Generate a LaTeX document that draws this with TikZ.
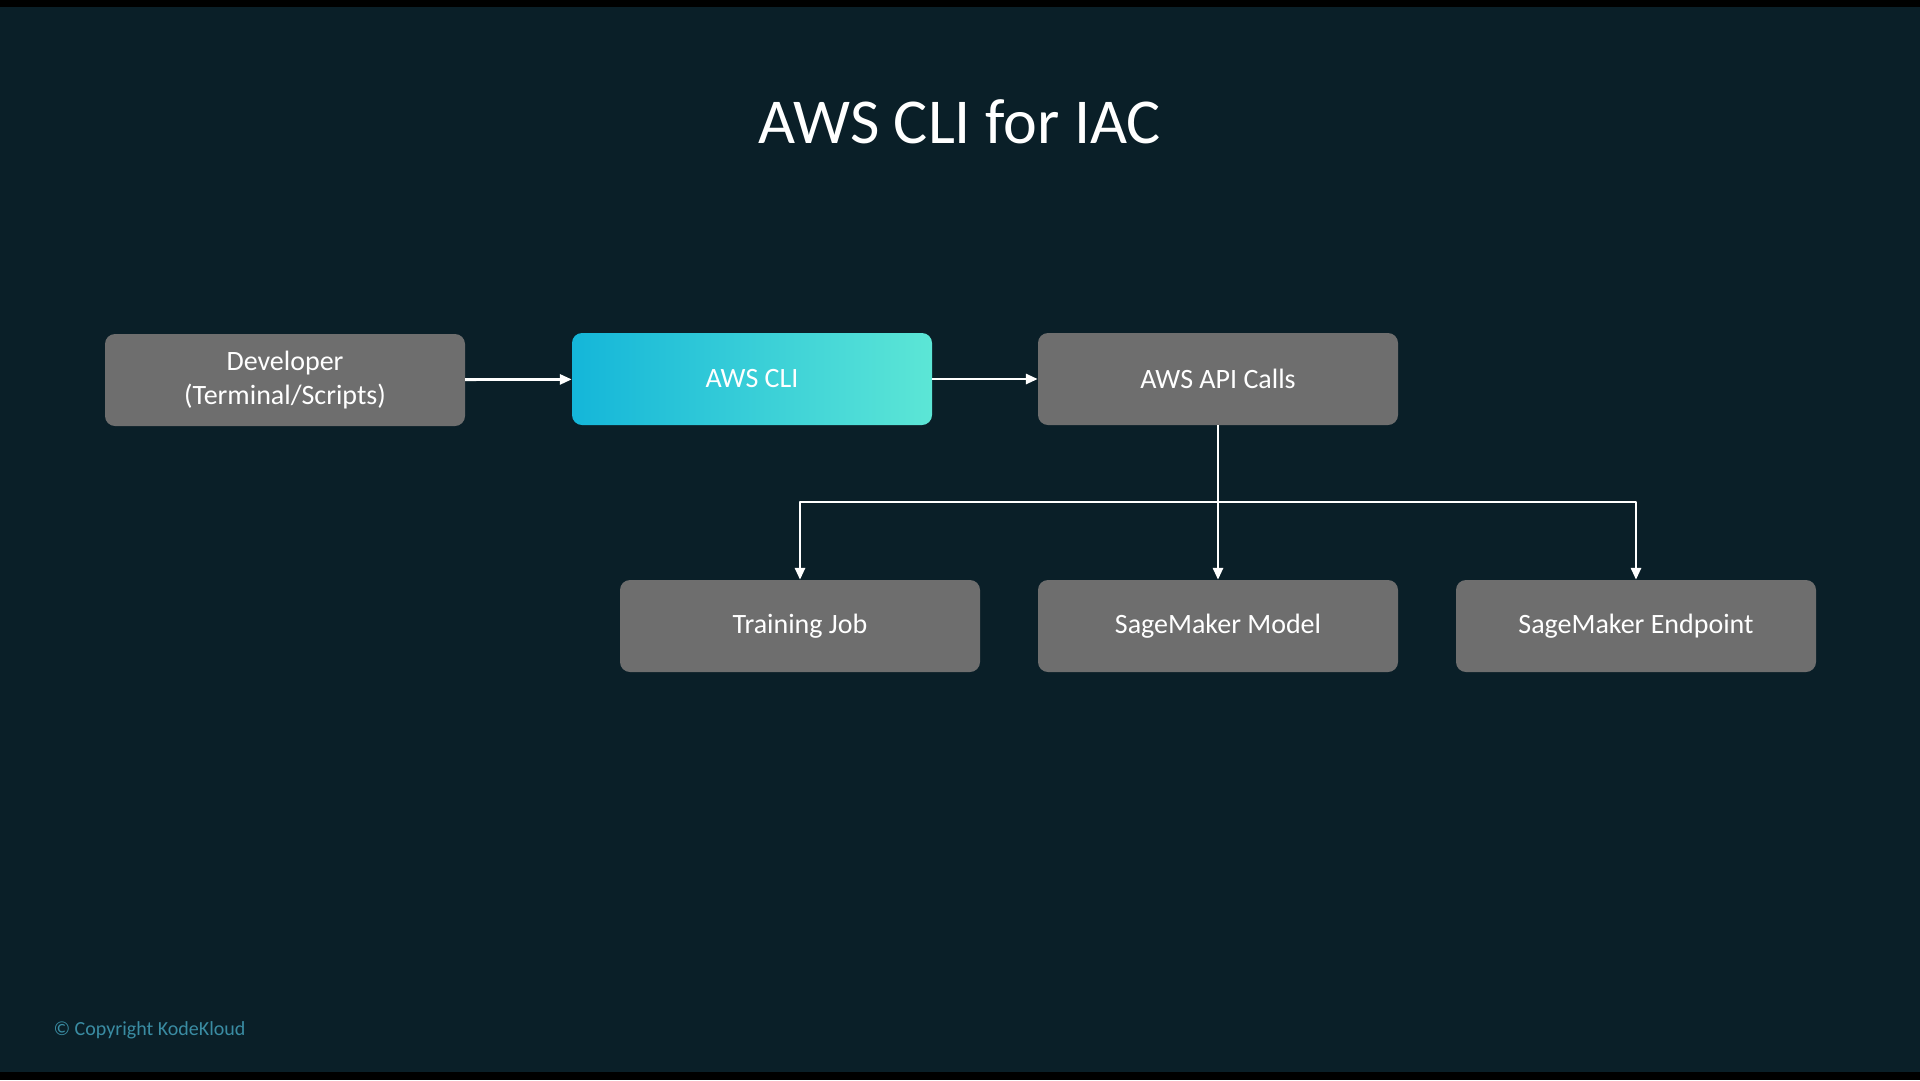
\documentclass[tikz,border=0pt]{standalone}
\usepackage{fontspec}
\setmainfont{Carlito}
\usetikzlibrary{arrows.meta}
\definecolor{bg}{HTML}{0A1F28}
\definecolor{boxgray}{HTML}{6E6E6E}
\definecolor{cliblue}{HTML}{14B6D9}
\definecolor{climint}{HTML}{5CE6D6}
\definecolor{kkteal}{HTML}{3A8CA3}
\tikzset{
  every picture/.style={line join=round, >=Stealth},
  box/.style={rounded corners=10pt, minimum width=360pt, minimum height=92pt, inner sep=0pt,
    text=white, align=center, font=\fontsize{28}{34}\selectfont},
  graybox/.style={box, fill=boxgray},
  clibox/.style={box, left color=cliblue, right color=climint},
  link/.style={-{Triangle[length=12pt,width=10pt]}, draw=white, line width=2.8pt},
}

\begin{document}
\begin{tikzpicture}[x=1pt,y=-1pt]
\fill[bg](0,0)rectangle(1920,1080);
\fill[black](0,0)rectangle(1920,7);
\fill[black](0,1072)rectangle(1920,1080);
\node[text=white,font=\fontsize{64}{78}\selectfont](title)at(960,122){AWS CLI for IAC};
% top row
\node[graybox](dev)at(285,380){Developer\\(Terminal/Scripts)};
\node[clibox](cli)at(752,379){AWS CLI};
\node[graybox](api)at(1218,379){AWS API Calls};
% bottom row
\node[graybox](train)at(800,626){Training Job};
\node[graybox](model)at(1218,626){SageMaker Model};
\node[graybox](endpt)at(1636,626){SageMaker Endpoint};
\draw[link](dev)--(cli);
\draw[link](cli)--(api);
\coordinate(fork)at(1218,502);
\draw[link](api.south)--(model.north);
\draw[link](fork)-|(train.north);
\draw[link](fork)-|(endpt.north);
\node[anchor=west,text=kkteal,font=\fontsize{20}{24}\selectfont](copy)at(50,1030){© Copyright KodeKloud};
\end{tikzpicture}
\end{document}
